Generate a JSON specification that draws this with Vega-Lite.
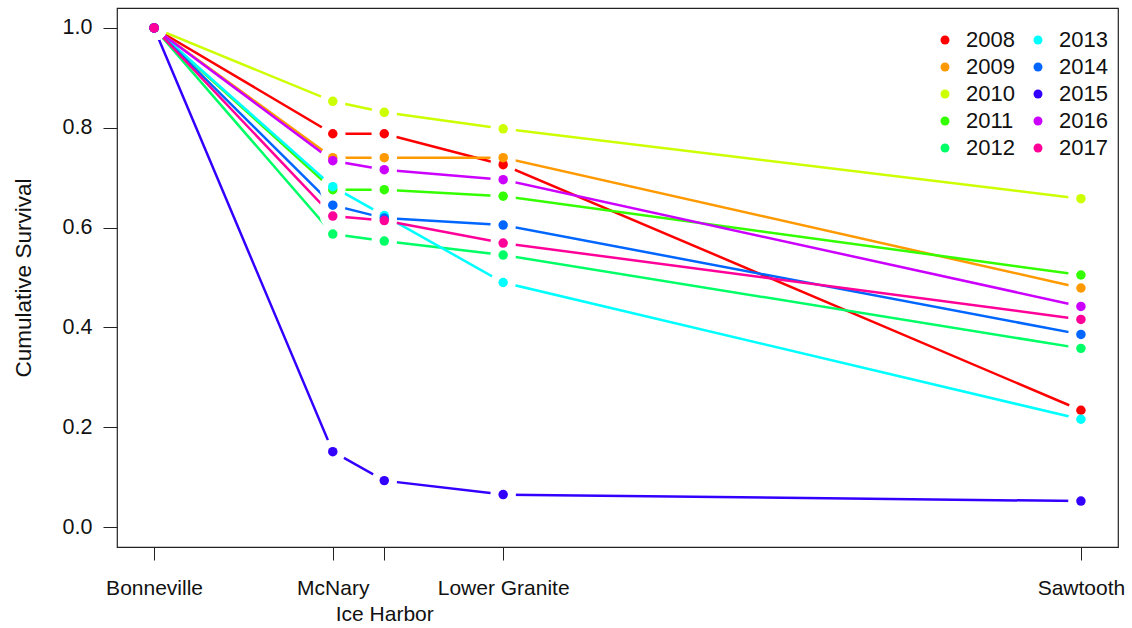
{
  "$schema": "https://vega.github.io/schema/vega-lite/v6.json",
  "width": 1001,
  "height": 539,
  "autosize": {"type": "none"},
  "padding": {"left": 117, "top": 8, "right": 14, "bottom": 81},
  "background": "white",
  "config": {
    "font": "Liberation Sans",
    "view": {"stroke": "#222", "strokeWidth": 1.2},
    "legend": {
      "title": null,
      "orient": "none",
      "legendX": 817,
      "legendY": 21,
      "columns": 2,
      "columnPadding": 12,
      "rowPadding": 5,
      "symbolType": "circle",
      "symbolSize": 80,
      "symbolStrokeWidth": 0,
      "labelFontSize": 22,
      "labelColor": "#111",
      "labelOffset": 10,
      "padding": 0
    }
  },
  "data": {
    "values": [
      {"site": "Bonneville", "km": 234, "year": "2008", "survival": 1.0},
      {"site": "McNary", "km": 470, "year": "2008", "survival": 0.788},
      {"site": "Ice Harbor", "km": 538, "year": "2008", "survival": 0.788},
      {"site": "Lower Granite", "km": 695, "year": "2008", "survival": 0.726},
      {"site": "Sawtooth", "km": 1458, "year": "2008", "survival": 0.234},
      {"site": "Bonneville", "km": 234, "year": "2009", "survival": 1.0},
      {"site": "McNary", "km": 470, "year": "2009", "survival": 0.740},
      {"site": "Ice Harbor", "km": 538, "year": "2009", "survival": 0.740},
      {"site": "Lower Granite", "km": 695, "year": "2009", "survival": 0.740},
      {"site": "Sawtooth", "km": 1458, "year": "2009", "survival": 0.479},
      {"site": "Bonneville", "km": 234, "year": "2010", "survival": 1.0},
      {"site": "McNary", "km": 470, "year": "2010", "survival": 0.853},
      {"site": "Ice Harbor", "km": 538, "year": "2010", "survival": 0.831},
      {"site": "Lower Granite", "km": 695, "year": "2010", "survival": 0.798},
      {"site": "Sawtooth", "km": 1458, "year": "2010", "survival": 0.658},
      {"site": "Bonneville", "km": 234, "year": "2011", "survival": 1.0},
      {"site": "McNary", "km": 470, "year": "2011", "survival": 0.676},
      {"site": "Ice Harbor", "km": 538, "year": "2011", "survival": 0.676},
      {"site": "Lower Granite", "km": 695, "year": "2011", "survival": 0.663},
      {"site": "Sawtooth", "km": 1458, "year": "2011", "survival": 0.505},
      {"site": "Bonneville", "km": 234, "year": "2012", "survival": 1.0},
      {"site": "McNary", "km": 470, "year": "2012", "survival": 0.587},
      {"site": "Ice Harbor", "km": 538, "year": "2012", "survival": 0.573},
      {"site": "Lower Granite", "km": 695, "year": "2012", "survival": 0.545},
      {"site": "Sawtooth", "km": 1458, "year": "2012", "survival": 0.358},
      {"site": "Bonneville", "km": 234, "year": "2013", "survival": 1.0},
      {"site": "McNary", "km": 470, "year": "2013", "survival": 0.682},
      {"site": "Ice Harbor", "km": 538, "year": "2013", "survival": 0.624},
      {"site": "Lower Granite", "km": 695, "year": "2013", "survival": 0.490},
      {"site": "Sawtooth", "km": 1458, "year": "2013", "survival": 0.216},
      {"site": "Bonneville", "km": 234, "year": "2014", "survival": 1.0},
      {"site": "McNary", "km": 470, "year": "2014", "survival": 0.645},
      {"site": "Ice Harbor", "km": 538, "year": "2014", "survival": 0.619},
      {"site": "Lower Granite", "km": 695, "year": "2014", "survival": 0.605},
      {"site": "Sawtooth", "km": 1458, "year": "2014", "survival": 0.386},
      {"site": "Bonneville", "km": 234, "year": "2015", "survival": 1.0},
      {"site": "McNary", "km": 470, "year": "2015", "survival": 0.151},
      {"site": "Ice Harbor", "km": 538, "year": "2015", "survival": 0.093},
      {"site": "Lower Granite", "km": 695, "year": "2015", "survival": 0.065},
      {"site": "Sawtooth", "km": 1458, "year": "2015", "survival": 0.052},
      {"site": "Bonneville", "km": 234, "year": "2016", "survival": 1.0},
      {"site": "McNary", "km": 470, "year": "2016", "survival": 0.734},
      {"site": "Ice Harbor", "km": 538, "year": "2016", "survival": 0.716},
      {"site": "Lower Granite", "km": 695, "year": "2016", "survival": 0.696},
      {"site": "Sawtooth", "km": 1458, "year": "2016", "survival": 0.442},
      {"site": "Bonneville", "km": 234, "year": "2017", "survival": 1.0},
      {"site": "McNary", "km": 470, "year": "2017", "survival": 0.623},
      {"site": "Ice Harbor", "km": 538, "year": "2017", "survival": 0.614},
      {"site": "Lower Granite", "km": 695, "year": "2017", "survival": 0.569},
      {"site": "Sawtooth", "km": 1458, "year": "2017", "survival": 0.416}
    ]
  },
  "encoding": {
    "x": {
      "field": "km",
      "type": "quantitative",
      "scale": {"domain": [185.04, 1506.96], "nice": false, "zero": false},
      "axis": {
        "title": null,
        "values": [234, 470, 538, 695, 1458],
        "grid": false,
        "domain": false,
        "ticks": true,
        "tickSize": 13,
        "tickColor": "#222",
        "labelFontSize": 21,
        "labelColor": "#111",
        "labelPadding": 17,
        "labelOverlap": false,
        "labelFlush": false,
        "labelLineHeight": 26,
        "labelExpr": "datum.value == 234 ? 'Bonneville' : datum.value == 470 ? 'McNary' : datum.value == 538 ? ['', 'Ice Harbor'] : datum.value == 695 ? 'Lower Granite' : 'Sawtooth'"
      }
    },
    "y": {
      "field": "survival",
      "type": "quantitative",
      "scale": {"domain": [-0.04, 1.04], "nice": false, "zero": false},
      "axis": {
        "title": "Cumulative Survival",
        "values": [0, 0.2, 0.4, 0.6, 0.8, 1.0],
        "format": ".1f",
        "grid": false,
        "domain": false,
        "tickSize": 14,
        "tickColor": "#222",
        "labelFontSize": 21.5,
        "labelColor": "#111",
        "labelPadding": 11,
        "titleFontSize": 22.5,
        "titleFontWeight": "normal",
        "titleColor": "#111",
        "titlePadding": 27
      }
    }
  },
  "layer": [
    {
      "mark": {"type": "line", "strokeWidth": 2.5},
      "encoding": {
        "color": {
          "field": "year",
          "type": "nominal",
          "scale": {
            "domain": ["2008", "2009", "2010", "2011", "2012", "2013", "2014", "2015", "2016", "2017"],
            "range": ["#FF0000", "#FF9900", "#CCFF00", "#33FF00", "#00FF66", "#00FFFF", "#0066FF", "#3300FF", "#CC00FF", "#FF0099"]
          }
        }
      }
    },
    {
      "mark": {"type": "circle", "color": "white", "opacity": 1, "size": 650},
      "encoding": {}
    },
    {
      "mark": {"type": "circle", "opacity": 1, "size": 90},
      "encoding": {
        "color": {
          "field": "year",
          "type": "nominal",
          "scale": {
            "domain": ["2008", "2009", "2010", "2011", "2012", "2013", "2014", "2015", "2016", "2017"],
            "range": ["#FF0000", "#FF9900", "#CCFF00", "#33FF00", "#00FF66", "#00FFFF", "#0066FF", "#3300FF", "#CC00FF", "#FF0099"]
          }
        }
      }
    }
  ]
}
